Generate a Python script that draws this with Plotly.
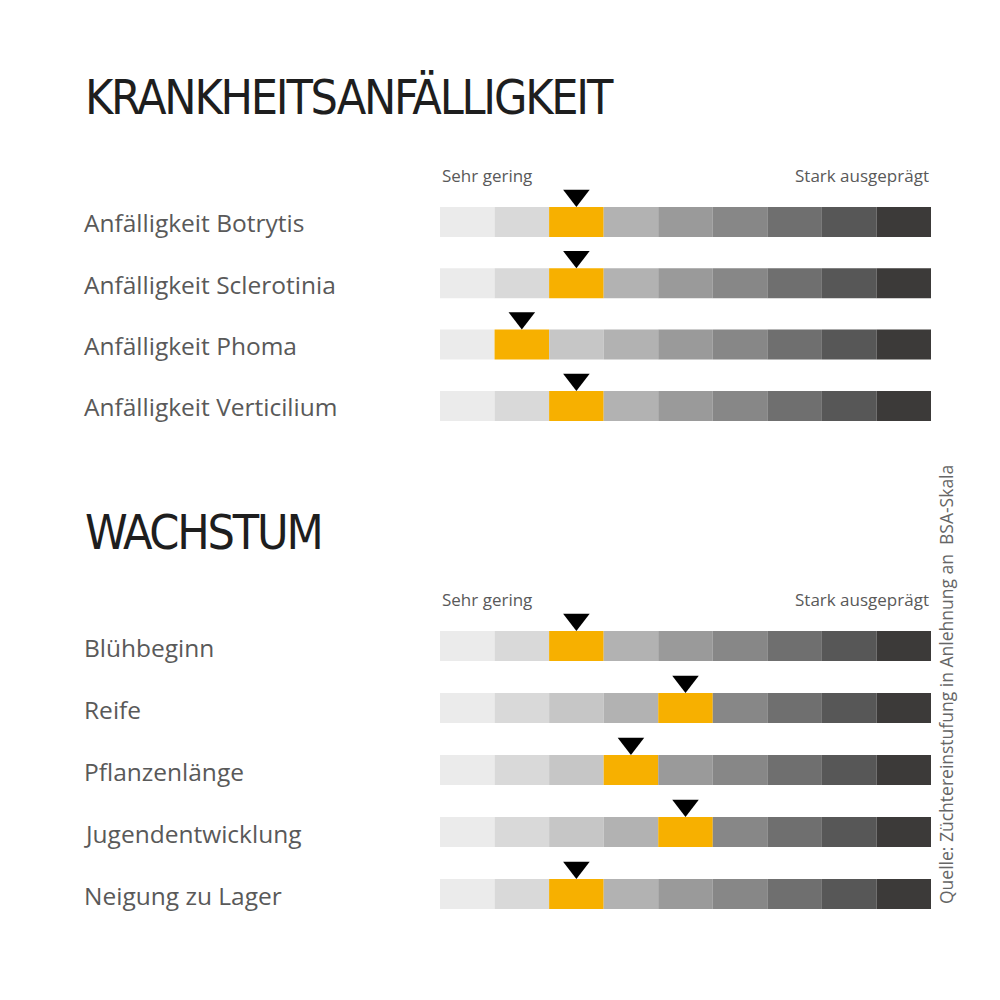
import plotly.graph_objects as go

# ---- data ----
section_titles = ["KRANKHEITSANFÄLLIGKEIT", "WACHSTUM"]
disease_labels = ["Anfälligkeit Botrytis", "Anfälligkeit Sclerotinia", "Anfälligkeit Phoma", "Anfälligkeit Verticilium"]
disease_values = [3, 3, 2, 3]
growth_labels = ["Blühbeginn", "Reife", "Pflanzenlänge", "Jugendentwicklung", "Neigung zu Lager"]
growth_values = [3, 5, 4, 5, 3]
scale_low = "Sehr gering"
scale_high = "Stark ausgeprägt"
n_steps = 9
source_text = "Quelle: Züchtereinstufung in Anlehnung an  BSA-Skala"

# ---- style ----
greys = ["#ebebeb", "#d9d9d9", "#c6c6c6", "#b2b2b2", "#9a9a9a", "#878787", "#6f6f6f", "#575757", "#3c3a39"]
orange = "#f7b000"
text_col = "#595959"
W = H = 1000
bar_x0, bar_x1 = 440, 931
bar_h = 30

sections = [
    dict(title=section_titles[0], labels=disease_labels, values=disease_values,
         title_y=97, scale_y=175, first_row=222, spacing=61.3),
    dict(title=section_titles[1], labels=growth_labels, values=growth_values,
         title_y=532, scale_y=599, first_row=646, spacing=62),
]

title_style = "font-stretch:condensed;letter-spacing:-2.2px"

bx, bbase, by, bcol = [], [], [], []
tx, ty = [], []
annotations = []
for sec in sections:
    annotations.append(dict(text=f"<span style='{title_style}'>{sec['title']}</span>",
                            x=83 / W, y=1 - sec["title_y"] / H,
                            xref="paper", yref="paper", xanchor="left", yanchor="middle",
                            showarrow=False,
                            font=dict(family="DejaVu Sans Condensed, Liberation Sans Narrow, DejaVu Sans, sans-serif",
                                      size=48, color="#1e1e1e")))
    annotations.append(dict(text=scale_low, x=bar_x0 / W, y=1 - sec["scale_y"] / H,
                            xref="paper", yref="paper", xanchor="left", yanchor="middle",
                            showarrow=False, font=dict(family="Open Sans", size=17, color=text_col)))
    annotations.append(dict(text=scale_high, x=bar_x1 / W, y=1 - sec["scale_y"] / H,
                            xref="paper", yref="paper", xanchor="right", yanchor="middle",
                            showarrow=False, font=dict(family="Open Sans", size=17, color=text_col)))
    for i, (lab, val) in enumerate(zip(sec["labels"], sec["values"])):
        yc = sec["first_row"] + i * sec["spacing"]
        annotations.append(dict(text=lab, x=82 / W, y=1 - (yc + 1) / H,
                                xref="paper", yref="paper", xanchor="left", yanchor="middle",
                                showarrow=False, font=dict(family="Open Sans", size=24.5, color=text_col)))
        for k in range(n_steps):
            bx.append(1)
            bbase.append(k)
            by.append(yc)
            bcol.append(orange if k + 1 == val else greys[k])
        tx.append(val - 0.5)
        ty.append(yc - bar_h / 2 - 11.5)

annotations.append(dict(text=source_text, x=946 / W, y=1 - 685 / H, textangle=-90,
                        xref="paper", yref="paper", xanchor="center", yanchor="middle",
                        showarrow=False, font=dict(family="Open Sans", size=17.5, color="#666666")))

fig = go.Figure()
fig.add_trace(go.Bar(x=bx, base=bbase, y=by, orientation="h", width=bar_h,
                     marker=dict(color=bcol, line=dict(width=0)), hoverinfo="skip"))
fig.add_trace(go.Scatter(x=tx, y=ty, mode="markers",
                         marker=dict(symbol="triangle-down", size=23, color="black", line=dict(width=0)),
                         hoverinfo="skip"))

fig.update_layout(
    width=W, height=H, margin=dict(l=0, r=0, t=0, b=0),
    paper_bgcolor="white", plot_bgcolor="white", showlegend=False,
    barmode="overlay",
    xaxis=dict(domain=[bar_x0 / W, bar_x1 / W], range=[0, n_steps], visible=False, fixedrange=True),
    yaxis=dict(domain=[0, 1], range=[H, 0], visible=False, fixedrange=True),
    annotations=annotations,
)
fig.write_html("out.html")
